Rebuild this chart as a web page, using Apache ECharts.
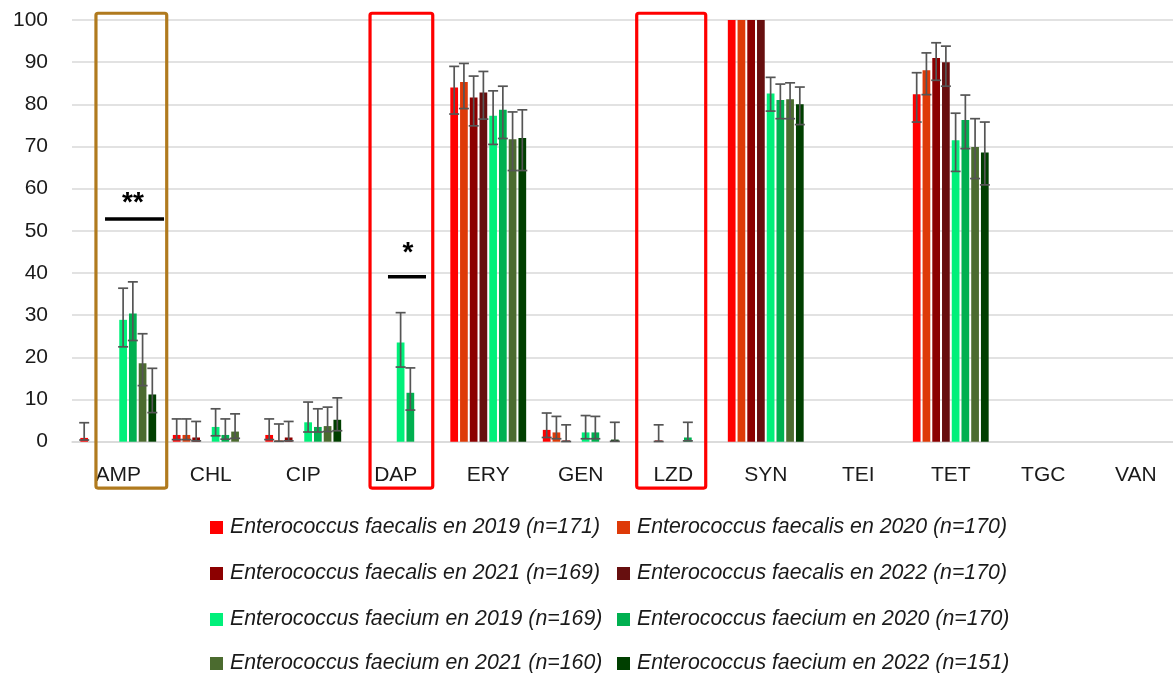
<!DOCTYPE html>
<html>
<head>
<meta charset="utf-8">
<script src="https://cdn.jsdelivr.net/npm/echarts@6/dist/echarts.min.js"></script>
<style>
  html, body { margin: 0; padding: 0; background: #ffffff; overflow: hidden; }
  /* the plot runs slightly past the right edge of the window */
  #chart { width: 1182px; height: 673px; }
</style>
</head>
<body>
<div id="chart"></div>
<script>
// Antibiotics on the x axis
const antibiotics = ['AMP', 'CHL', 'CIP', 'DAP', 'ERY', 'GEN', 'LZD', 'SYN', 'TEI', 'TET', 'TGC', 'VAN'];
const yTicks = [0, 10, 20, 30, 40, 50, 60, 70, 80, 90, 100];

const seriesNames = [
  'Enterococcus faecalis en 2019 (n=171)',
  'Enterococcus faecalis en 2020 (n=170)',
  'Enterococcus faecalis en 2021 (n=169)',
  'Enterococcus faecalis en 2022 (n=170)',
  'Enterococcus faecium en 2019 (n=169)',
  'Enterococcus faecium en 2020 (n=170)',
  'Enterococcus faecium en 2021 (n=160)',
  'Enterococcus faecium en 2022 (n=151)'
];
const seriesColors = ['#FF0000', '#DE3A08', '#8C0000', '#670F0F', '#00F07A', '#00B050', '#4B6B2F', '#003F00'];

// Resistance (%) per antibiotic, one array per species/year
const faecalis2019 = [0.9, 1.6, 1.6, 0, 84.0, 2.8, 0, 100, 0, 82.4, 0, 0];
const faecalis2020 = [0, 1.6, 0.3, 0, 85.3, 2.2, 0, 100, 0, 88.1, 0, 0];
const faecalis2021 = [0, 1.0, 1.0, 0, 81.6, 0.3, 0.3, 100, 0, 91.0, 0, 0];
const faecalis2022 = [0, 0, 0, 0, 82.8, 0, 0, 100, 0, 90.0, 0, 0];
const faecium2019  = [28.9, 3.5, 4.6, 23.5, 77.3, 2.2, 0, 82.6, 0, 71.5, 0, 0];
const faecium2020  = [30.4, 1.6, 3.5, 11.6, 78.7, 2.2, 1.0, 81.0, 0, 76.3, 0, 0];
const faecium2021  = [18.6, 2.4, 3.7, 0, 71.7, 0, 0, 81.2, 0, 69.9, 0, 0];
const faecium2022  = [11.2, 0, 5.2, 0, 72.0, 0.5, 0, 80.0, 0, 68.6, 0, 0];

// 95% confidence interval bounds (null = no error bar)
const faecalis2019Low  = [0.4, 0.5, 0.5, null, 77.7, 1.0, null, null, null, 75.8, null, null];
const faecalis2019High = [4.5, 5.4, 5.4, null, 89.0, 6.8, null, null, null, 87.5, null, null];
const faecalis2020Low  = [null, 0.5, 0.1, null, 79.0, 0.7, null, null, null, 82.3, null, null];
const faecalis2020High = [null, 5.4, 4.2, null, 89.7, 6.0, null, null, null, 92.2, null, null];
const faecalis2021Low  = [null, 0.2, 0.2, null, 74.9, 0.05, 0.05, null, null, 85.7, null, null];
const faecalis2021High = [null, 4.8, 4.8, null, 86.7, 4.0, 4.0, null, null, 94.6, null, null];
const faecalis2022Low  = [null, null, null, null, 76.5, null, null, null, null, 84.3, null, null];
const faecalis2022High = [null, null, null, null, 87.8, null, null, null, null, 93.8, null, null];
const faecium2019Low   = [22.5, 1.4, 2.3, 17.7, 70.5, 0.7, null, 78.4, null, 64.1, null, null];
const faecium2019High  = [36.4, 7.8, 9.4, 30.6, 83.2, 6.2, null, 86.4, null, 77.9, null, null];
const faecium2020Low   = [24.0, 0.6, 2.3, 7.5, 71.9, 0.7, 0.2, 76.6, null, 69.5, null, null];
const faecium2020High  = [37.9, 5.4, 7.8, 17.5, 84.3, 6.0, 4.6, 84.8, null, 82.2, null, null];
const faecium2021Low   = [13.3, 0.8, 2.4, null, 64.3, null, null, 76.6, null, 62.4, null, null];
const faecium2021High  = [25.6, 6.6, 8.2, null, 78.2, null, null, 85.1, null, 76.6, null, null];
const faecium2022Low   = [6.9, null, 2.6, null, 64.3, 0.1, null, 75.2, null, 60.9, null, null];
const faecium2022High  = [17.4, null, 10.4, null, 78.7, 4.6, null, 84.1, null, 75.8, null, null];

const values = [faecalis2019, faecalis2020, faecalis2021, faecalis2022, faecium2019, faecium2020, faecium2021, faecium2022];
const lows = [faecalis2019Low, faecalis2020Low, faecalis2021Low, faecalis2022Low, faecium2019Low, faecium2020Low, faecium2021Low, faecium2022Low];
const highs = [faecalis2019High, faecalis2020High, faecalis2021High, faecalis2022High, faecium2019High, faecium2020High, faecium2021High, faecium2022High];

const BAR_CATEGORY_GAP = 0.18;
const BAR_GAP = 0.26;
const N = values.length;
const FONT = '"Liberation Sans", Arial, sans-serif';

const errorData = [];
highs.forEach((hs, s) => {
  hs.forEach((h, c) => {
    if (h !== null) errorData.push([c, s, lows[s][c], h]);
  });
});

function renderErrorBar(params, api) {
  const c = api.value(0);
  const s = api.value(1);
  const band = api.size([1, 0])[0];
  const used = band * (1 - BAR_CATEGORY_GAP);
  const w = used / (N + (N - 1) * BAR_GAP);
  const offset = -used / 2 + s * w * (1 + BAR_GAP) + w / 2;
  const lo = api.coord([c, api.value(2)]);
  const hi = api.coord([c, api.value(3)]);
  const x = lo[0] + offset;
  const half = 5;
  const style = { stroke: '#555555', lineWidth: 1.7 };
  return {
    type: 'group',
    children: [
      { type: 'line', shape: { x1: x, y1: hi[1], x2: x, y2: lo[1] }, style },
      { type: 'line', shape: { x1: x - half, y1: hi[1], x2: x + half, y2: hi[1] }, style },
      { type: 'line', shape: { x1: x - half, y1: lo[1], x2: x + half, y2: lo[1] }, style }
    ]
  };
}

// Legend laid out as two columns of four entries
const legendColumnsLeft = [210, 617];
const legendRowsTop = [517, 563, 609, 653];
const legendText = {
  fontFamily: FONT, fontSize: 21.3, fontStyle: 'italic', color: '#1a1a1a',
  lineHeight: 20, padding: [0, 0, 0, 2]
};
const legends = seriesNames.map((name, i) => ({
  data: [name],
  left: legendColumnsLeft[i % 2],
  top: legendRowsTop[Math.floor(i / 2)],
  padding: 0,
  itemWidth: 13,
  itemHeight: 13,
  icon: 'rect',
  selectedMode: false,
  textStyle: legendText
}));

const chart = echarts.init(document.getElementById('chart'));
chart.setOption({
  animation: false,
  backgroundColor: '#ffffff',
  grid: { left: 72, right: 0, top: 20, bottom: 231.3, containLabel: false },
  legend: legends,
  xAxis: {
    type: 'category',
    data: antibiotics,
    axisTick: { show: false },
    axisLine: { lineStyle: { color: '#D9D9D9', width: 1.5 } },
    axisLabel: { margin: 23, fontFamily: FONT, fontSize: 21, color: '#1a1a1a' }
  },
  yAxis: {
    type: 'value',
    min: yTicks[0],
    max: yTicks[yTicks.length - 1],
    interval: yTicks[1] - yTicks[0],
    axisLine: { show: false },
    axisTick: { show: false },
    splitLine: { lineStyle: { color: '#D9D9D9', width: 1.5 } },
    axisLabel: { margin: 24, fontFamily: FONT, fontSize: 21, color: '#1a1a1a' }
  },
  series: values.map((v, i) => ({
    name: seriesNames[i],
    type: 'bar',
    data: v,
    barGap: (BAR_GAP * 100) + '%',
    barCategoryGap: (BAR_CATEGORY_GAP * 100) + '%',
    itemStyle: { color: seriesColors[i] }
  })).concat([{
    name: 'IC95',
    type: 'custom',
    data: errorData,
    encode: { x: 0, y: [2, 3] },
    renderItem: renderErrorBar,
    z: 5,
    silent: true
  }])
});

// Highlight boxes and significance markers, placed in category/value space
function xAt(pos) {
  const c0 = chart.convertToPixel({ xAxisIndex: 0 }, 0);
  const c1 = chart.convertToPixel({ xAxisIndex: 0 }, 1);
  const band = c1 - c0;
  return c0 - band / 2 + pos * band;
}
function yAt(v) { return chart.convertToPixel({ yAxisIndex: 0 }, v); }

function box(from, to, color) {
  const x1 = xAt(from), x2 = xAt(to), y1 = yAt(101.6), y2 = yAt(-11.0);
  return {
    type: 'rect', z: 10, silent: true,
    shape: { x: x1, y: y1, width: x2 - x1, height: y2 - y1, r: 2 },
    style: { fill: 'none', stroke: color, lineWidth: 3.2 }
  };
}
function sigLine(from, to, v) {
  return {
    type: 'line', z: 10, silent: true,
    shape: { x1: xAt(from), y1: yAt(v), x2: xAt(to), y2: yAt(v) },
    style: { stroke: '#000000', lineWidth: 3.5 }
  };
}
function stars(pos, v, text) {
  return {
    type: 'text', z: 10, silent: true,
    x: xAt(pos), y: yAt(v),
    style: { text, fontFamily: FONT, fontSize: 28, fontWeight: 'bold', fill: '#000000', align: 'center', verticalAlign: 'middle' }
  };
}

chart.setOption({
  graphic: [
    box(0.259, 1.024, '#B07A1E'),
    box(3.222, 3.900, '#FF0000'),
    box(6.105, 6.851, '#FF0000'),
    sigLine(0.357, 0.995, 52.8),
    stars(0.659, 56.5, '**'),
    sigLine(3.416, 3.827, 39.1),
    stars(3.632, 44.6, '*')
  ]
});
</script>
</body>
</html>
